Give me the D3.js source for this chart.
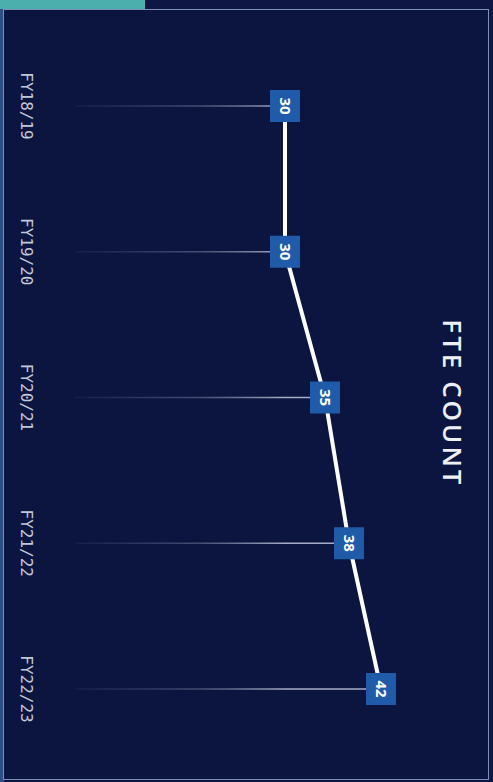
<!DOCTYPE html>
<html>
<head>
<meta charset="utf-8">
<script src="https://cdn.jsdelivr.net/npm/d3@7"></script>
<style>
  html, body { margin: 0; padding: 0; background: #0d1542; }
  svg { display: block; }
</style>
</head>
<body>
<div id="chart"></div>
<script>
// FTE count per financial year (chart is shown turned a quarter clockwise)
const years = ["FY18/19", "FY19/20", "FY20/21", "FY21/22", "FY22/23"];
const fteCount = [30, 30, 35, 38, 42];
const chartTitle = "FTE COUNT";

const W = 493, H = 782;

const svg = d3.select("#chart").append("svg")
    .attr("width", W)
    .attr("height", H);

// scales: value runs left->right, years run top->bottom
const x = d3.scaleLinear().domain([0, 50]).range([45, 445]);
const y = d3.scalePoint().domain(years).range([106, 689]);

const dropStart = 75;

const defs = svg.append("defs");
const grad = defs.append("linearGradient")
    .attr("id", "dropFade")
    .attr("gradientUnits", "userSpaceOnUse")
    .attr("x1", dropStart).attr("x2", x(30)).attr("y1", 0).attr("y2", 0);
grad.append("stop").attr("offset", "0%").attr("stop-color", "#6f7a9c").attr("stop-opacity", 0.1);
grad.append("stop").attr("offset", "60%").attr("stop-color", "#8d97b4").attr("stop-opacity", 0.45);
grad.append("stop").attr("offset", "100%").attr("stop-color", "#c0c7da").attr("stop-opacity", 0.85);

// background frame
svg.append("rect").attr("x", 0).attr("y", 0).attr("width", W).attr("height", H).attr("fill", "#0e1744");
svg.append("rect").attr("x", 0).attr("y", 0).attr("width", 145).attr("height", 9).attr("fill", "#4bb0ad");
svg.append("rect").attr("x", 0).attr("y", 9).attr("width", 4).attr("height", H - 9).attr("fill", "#2c4f86");
svg.append("rect")
    .attr("x", 3.5).attr("y", 9.5)
    .attr("width", 485).attr("height", 770)
    .attr("fill", "#0c1540")
    .attr("stroke", "#7e8fb6").attr("stroke-width", 1);

const data = years.map((yr, i) => ({ year: yr, value: fteCount[i] }));

// faint drop lines from left edge to each point
svg.selectAll(".drop")
    .data(data)
    .join("line")
    .attr("class", "drop")
    .attr("x1", dropStart)
    .attr("x2", d => x(d.value))
    .attr("y1", d => y(d.year))
    .attr("y2", d => y(d.year))
    .attr("stroke", "url(#dropFade)")
    .attr("stroke-width", 1.3);

// main line
const line = d3.line()
    .x(d => x(d.value))
    .y(d => y(d.year));

svg.append("path")
    .datum(data)
    .attr("d", line)
    .attr("fill", "none")
    .attr("stroke", "#ffffff")
    .attr("stroke-width", 4)
    .attr("stroke-linejoin", "round");

// value boxes
const boxW = 30, boxH = 32;
const labels = svg.selectAll(".val")
    .data(data)
    .join("g")
    .attr("class", "val")
    .attr("transform", d => `translate(${x(d.value)},${y(d.year)})`);

labels.append("rect")
    .attr("x", -boxW / 2).attr("y", -boxH / 2)
    .attr("width", boxW).attr("height", boxH)
    .attr("fill", "#1f5ba8");

labels.append("text")
    .attr("transform", "rotate(90)")
    .attr("text-anchor", "middle")
    .attr("dy", "0.36em")
    .style("font-family", "'Open Sans', 'DejaVu Sans', sans-serif")
    .style("font-size", "15px")
    .style("font-weight", "bold")
    .style("fill", "#ffffff")
    .text(d => d.value);

// category labels on the left, reading downward
svg.selectAll(".cat")
    .data(years)
    .join("text")
    .attr("class", "cat")
    .attr("transform", d => `translate(27,${y(d)}) rotate(90)`)
    .attr("text-anchor", "middle")
    .attr("dy", "0.35em")
    .style("font-family", "'DejaVu Sans Mono', monospace")
    .style("font-size", "16px")
    .style("fill", "#c3c8d6")
    .text(d => d);

// title
svg.append("text")
    .attr("transform", `translate(452,${(y(years[2]) + y(years[3])) / 2 - 67}) rotate(90)`)
    .attr("text-anchor", "middle")
    .attr("dy", "0.35em")
    .style("font-family", "'Open Sans', 'DejaVu Sans', sans-serif")
    .style("font-size", "26px")
    .style("font-weight", "600")
    .style("letter-spacing", "3px")
    .style("fill", "#eef0f6")
    .text(chartTitle);
</script>
</body>
</html>
